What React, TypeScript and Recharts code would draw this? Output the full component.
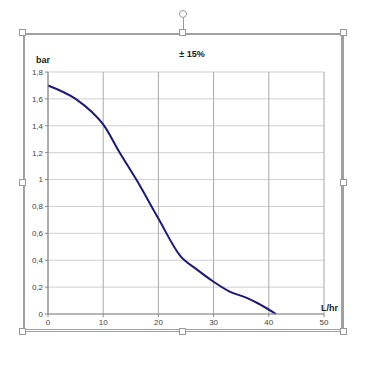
import { LineChart, Line, XAxis, YAxis, CartesianGrid } from "recharts";

// flow (L/hr) vs pressure (bar)
const flow = [0, 5, 8, 10, 13, 16, 20, 24, 27, 30, 33, 36, 38, 41.3];
const pressure = [1.7, 1.6, 1.5, 1.41, 1.2, 1.0, 0.71, 0.43, 0.33, 0.24, 0.165, 0.12, 0.08, 0];

const xTicks = [0, 10, 20, 30, 40, 50];
const yTicks = [0, 0.2, 0.4, 0.6, 0.8, 1, 1.2, 1.4, 1.6, 1.8];

const title = "± 15%";
const yUnit = "bar";
const xUnit = "L/hr";

const data = flow.map((x, i) => ({ x, p: pressure[i] }));

const font = "'Liberation Sans', Arial, sans-serif";
const tickStyle = { fontSize: 8, fill: "#444", fontFamily: font };

function Handle({ x, y }: { x: number; y: number }) {
  return (
    <div
      style={{
        position: "absolute",
        left: x - 4,
        top: y - 4,
        width: 7,
        height: 7,
        background: "#fff",
        border: "1px solid #999",
        boxSizing: "border-box",
      }}
    />
  );
}

export default function App() {
  const L = 23, R = 344, T = 33, B = 332, MX = 183, MY = 183;
  return (
    <div style={{ position: "fixed", left: 0, top: 0, width: 368, height: 368, background: "#fff" }}>
      {/* selection frame */}
      <div
        style={{
          position: "absolute",
          left: L,
          top: T,
          width: R - L,
          height: B - T,
          borderTop: "2px solid #a0a0a0",
          borderLeft: "2px solid #a0a0a0",
          borderBottom: "3px double #a0a0a0",
          borderRight: "3px solid #a0a0a0",
          boxSizing: "border-box",
        }}
      />
      <div style={{ position: "absolute", left: MX, top: 14, width: 1, height: T - 14, background: "#999" }} />
      <div
        style={{
          position: "absolute",
          left: MX - 4,
          top: 10,
          width: 8,
          height: 8,
          borderRadius: "50%",
          border: "1px solid #999",
          boxSizing: "border-box",
          background: "#fff",
        }}
      />
      <LineChart
        width={368}
        height={368}
        data={data}
        margin={{ top: 72, right: 44, bottom: 34, left: 0 }}
        style={{ position: "absolute", left: 0, top: 0 }}
      >
        <CartesianGrid stroke="#cfcfcf" horizontal={true} vertical={false} />
        <CartesianGrid stroke="#a8a8a8" horizontal={false} vertical={true} />
        <XAxis
          dataKey="x"
          type="number"
          domain={[0, 50]}
          ticks={xTicks}
          height={20}
          tickSize={3}
          tick={tickStyle}
          stroke="#888"
          interval={0}
        />
        <YAxis
          type="number"
          domain={[0, 1.8]}
          ticks={yTicks}
          width={48}
          tickSize={3}
          tick={tickStyle}
          stroke="#888"
          interval={0}
          tickFormatter={(v: number) => String(Math.round(v * 10) / 10).replace(".", ",")}
        />
        <Line
          dataKey="p"
          type="monotone"
          stroke="#1c1a78"
          strokeWidth={2}
          dot={false}
          isAnimationActive={false}
        />
      </LineChart>
      <div style={{ position: "absolute", left: 172, top: 49, width: 40, textAlign: "center", fontFamily: font, fontSize: 9, fontWeight: "bold", color: "#222" }}>
        {title}
      </div>
      <div style={{ position: "absolute", left: 36, top: 55, fontFamily: font, fontSize: 9, fontWeight: "bold", color: "#222" }}>
        {yUnit}
      </div>
      <div style={{ position: "absolute", left: 321, top: 303, fontFamily: font, fontSize: 9, fontWeight: "bold", color: "#222" }}>
        {xUnit}
      </div>
      <Handle x={L} y={T} />
      <Handle x={MX} y={T} />
      <Handle x={R} y={T} />
      <Handle x={L} y={MY} />
      <Handle x={R} y={MY} />
      <Handle x={L} y={B} />
      <Handle x={MX} y={B} />
      <Handle x={R} y={B} />
    </div>
  );
}
